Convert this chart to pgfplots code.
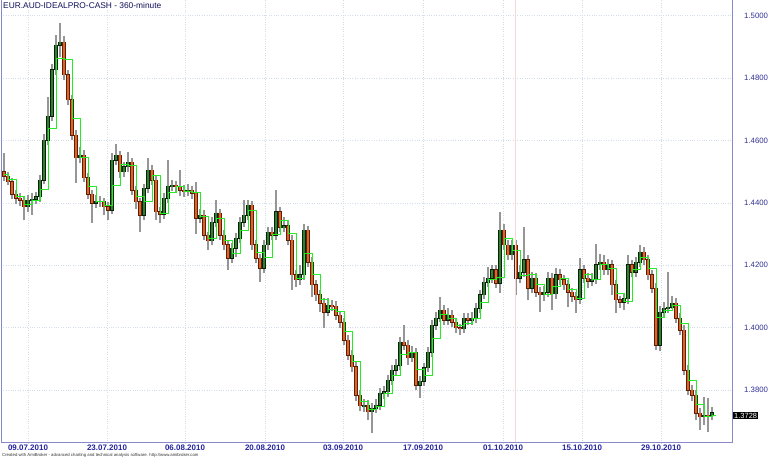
\documentclass[border=0pt]{standalone}
\usepackage{pgfplots}
\pgfplotsset{compat=1.18}
\usepackage{pgfplotstable}
\usepackage{fontspec}
\setmainfont{Liberation Sans}
\definecolor{framec}{RGB}{136,136,204}
\definecolor{titlec}{RGB}{16,16,90}
\definecolor{datec}{RGB}{36,36,160}
\definecolor{tickc}{RGB}{48,48,150}
\definecolor{gridc}{RGB}{212,222,232}
\definecolor{wickc}{RGB}{150,150,150}
\definecolor{upfill}{RGB}{46,130,46}
\definecolor{upedge}{RGB}{10,30,10}
\definecolor{dnfill}{RGB}{226,98,36}
\definecolor{dnedge}{RGB}{90,32,8}
\definecolor{sigc}{RGB}{40,235,40}
\definecolor{pinkc}{RGB}{246,214,214}

\pgfplotstableread{
x o h l c
4 1.4499 1.4560 1.4470 1.4486
8 1.4486 1.4499 1.4457 1.4467
12 1.4467 1.4480 1.4412 1.4428
16 1.4428 1.4441 1.4396 1.4415
20 1.4415 1.4431 1.4390 1.4409
24 1.4409 1.4422 1.4345 1.4387
28 1.4387 1.4425 1.4371 1.4409
32 1.4409 1.4431 1.4360 1.4412
36 1.4412 1.4435 1.4396 1.4419
40 1.4419 1.4489 1.4403 1.4473
44 1.4473 1.4620 1.4460 1.4601
48 1.4601 1.4739 1.4585 1.4678
52 1.4678 1.4845 1.4662 1.4826
56 1.4826 1.4938 1.4810 1.4906
60 1.4906 1.4976 1.4867 1.4915
64 1.4915 1.4935 1.4794 1.4810
68 1.4810 1.4826 1.4714 1.4730
72 1.4730 1.4746 1.4601 1.4617
76 1.4617 1.4633 1.4463 1.4544
80 1.4544 1.4579 1.4528 1.4553
84 1.4553 1.4569 1.4467 1.4480
88 1.4480 1.4496 1.4412 1.4428
92 1.4428 1.4441 1.4335 1.4399
96 1.4399 1.4425 1.4383 1.4406
100 1.4406 1.4422 1.4387 1.4403
104 1.4403 1.4415 1.4361 1.4387
108 1.4387 1.4403 1.4345 1.4377
112 1.4377 1.4560 1.4364 1.4537
116 1.4537 1.4588 1.4521 1.4553
120 1.4553 1.4566 1.4480 1.4499
124 1.4499 1.4531 1.4483 1.4515
128 1.4515 1.4563 1.4499 1.4531
132 1.4531 1.4544 1.4425 1.4441
136 1.4441 1.4454 1.4380 1.4403
140 1.4403 1.4415 1.4306 1.4361
144 1.4361 1.4460 1.4345 1.4447
148 1.4447 1.4544 1.4431 1.4505
152 1.4505 1.4521 1.4457 1.4473
156 1.4473 1.4489 1.4345 1.4371
160 1.4371 1.4387 1.4335 1.4364
164 1.4364 1.4431 1.4348 1.4415
168 1.4415 1.4537 1.4399 1.4454
172 1.4454 1.4473 1.4438 1.4457
176 1.4457 1.4470 1.4431 1.4451
180 1.4451 1.4505 1.4422 1.4441
184 1.4441 1.4457 1.4419 1.4435
188 1.4435 1.4460 1.4422 1.4441
192 1.4441 1.4454 1.4412 1.4431
196 1.4431 1.4467 1.4300 1.4351
200 1.4351 1.4380 1.4335 1.4361
204 1.4361 1.4377 1.4281 1.4297
208 1.4297 1.4306 1.4249 1.4278
212 1.4278 1.4354 1.4265 1.4338
216 1.4338 1.4409 1.4322 1.4367
220 1.4367 1.4380 1.4281 1.4297
224 1.4297 1.4313 1.4249 1.4265
228 1.4265 1.4281 1.4185 1.4223
232 1.4223 1.4271 1.4207 1.4255
236 1.4255 1.4303 1.4226 1.4287
240 1.4287 1.4354 1.4271 1.4338
244 1.4338 1.4409 1.4322 1.4361
248 1.4361 1.4409 1.4345 1.4393
252 1.4393 1.4406 1.4249 1.4265
256 1.4265 1.4281 1.4207 1.4223
260 1.4223 1.4236 1.4146 1.4191
264 1.4191 1.4281 1.4175 1.4265
268 1.4265 1.4322 1.4249 1.4306
272 1.4306 1.4322 1.4281 1.4297
276 1.4297 1.4441 1.4281 1.4371
280 1.4371 1.4387 1.4306 1.4322
284 1.4322 1.4355 1.4306 1.4326
288 1.4326 1.4342 1.4265 1.4281
292 1.4281 1.4297 1.4121 1.4169
296 1.4169 1.4185 1.4130 1.4153
300 1.4153 1.4201 1.4137 1.4169
304 1.4169 1.4332 1.4153 1.4313
308 1.4313 1.4326 1.4194 1.4210
312 1.4210 1.4226 1.4098 1.4137
316 1.4137 1.4153 1.4085 1.4105
320 1.4105 1.4121 1.4050 1.4079
324 1.4079 1.4095 1.4000 1.4050
328 1.4050 1.4095 1.4037 1.4072
332 1.4072 1.4088 1.4053 1.4069
336 1.4069 1.4085 1.4024 1.4040
340 1.4040 1.4053 1.3999 1.4018
344 1.4018 1.4031 1.3944 1.3960
348 1.3960 1.3976 1.3896 1.3912
352 1.3912 1.3928 1.3858 1.3874
356 1.3874 1.3890 1.3765 1.3784
360 1.3784 1.3800 1.3733 1.3749
364 1.3749 1.3771 1.3730 1.3752
368 1.3752 1.3768 1.3704 1.3730
372 1.3730 1.3758 1.3662 1.3742
376 1.3742 1.3771 1.3726 1.3752
380 1.3752 1.3806 1.3736 1.3790
384 1.3790 1.3813 1.3771 1.3794
388 1.3794 1.3848 1.3778 1.3832
392 1.3832 1.3880 1.3816 1.3864
396 1.3864 1.3899 1.3848 1.3880
400 1.3880 1.3970 1.3864 1.3954
404 1.3954 1.4008 1.3928 1.3944
408 1.3944 1.3960 1.3880 1.3903
412 1.3903 1.3941 1.3890 1.3922
416 1.3922 1.3935 1.3800 1.3816
420 1.3816 1.3845 1.3775 1.3829
424 1.3829 1.3887 1.3813 1.3871
428 1.3871 1.3938 1.3858 1.3922
432 1.3922 1.4024 1.3906 1.4008
436 1.4008 1.4050 1.3992 1.4031
440 1.4031 1.4098 1.4018 1.4056
444 1.4056 1.4072 1.4008 1.4024
448 1.4024 1.4063 1.4008 1.4040
452 1.4040 1.4056 1.4002 1.4018
456 1.4018 1.4031 1.3983 1.3999
460 1.3999 1.4012 1.3976 1.3996
464 1.3996 1.4047 1.3983 1.4031
468 1.4031 1.4047 1.4008 1.4024
472 1.4024 1.4050 1.4008 1.4031
476 1.4031 1.4079 1.4015 1.4063
480 1.4063 1.4121 1.4047 1.4105
484 1.4105 1.4162 1.4092 1.4146
488 1.4146 1.4194 1.4130 1.4159
492 1.4159 1.4201 1.4143 1.4185
496 1.4185 1.4201 1.4127 1.4143
500 1.4143 1.4371 1.4111 1.4313
504 1.4313 1.4332 1.4249 1.4265
508 1.4265 1.4281 1.4217 1.4233
512 1.4233 1.4281 1.4217 1.4265
516 1.4265 1.4281 1.4105 1.4159
520 1.4159 1.4201 1.4143 1.4178
524 1.4178 1.4322 1.4162 1.4217
528 1.4217 1.4233 1.4089 1.4127
532 1.4127 1.4178 1.4111 1.4159
536 1.4159 1.4175 1.4098 1.4114
540 1.4114 1.4130 1.4050 1.4105
544 1.4105 1.4133 1.4085 1.4114
548 1.4114 1.4178 1.4098 1.4159
552 1.4159 1.4175 1.4057 1.4108
556 1.4108 1.4191 1.4092 1.4169
560 1.4169 1.4188 1.4137 1.4153
564 1.4153 1.4169 1.4121 1.4137
568 1.4137 1.4153 1.4066 1.4114
572 1.4114 1.4127 1.4082 1.4101
576 1.4101 1.4114 1.4047 1.4089
580 1.4089 1.4223 1.4076 1.4185
584 1.4185 1.4201 1.4143 1.4159
588 1.4159 1.4175 1.4127 1.4149
592 1.4149 1.4175 1.4133 1.4156
596 1.4156 1.4268 1.4140 1.4201
600 1.4201 1.4236 1.4185 1.4210
604 1.4210 1.4233 1.4169 1.4185
608 1.4185 1.4220 1.4169 1.4201
612 1.4201 1.4217 1.4105 1.4137
616 1.4137 1.4153 1.4047 1.4089
620 1.4089 1.4101 1.4063 1.4082
624 1.4082 1.4108 1.4056 1.4092
628 1.4092 1.4233 1.4076 1.4201
632 1.4201 1.4217 1.4162 1.4178
636 1.4178 1.4226 1.4162 1.4210
640 1.4210 1.4265 1.4194 1.4242
644 1.4242 1.4258 1.4201 1.4217
648 1.4217 1.4233 1.4153 1.4169
652 1.4169 1.4185 1.4111 1.4127
656 1.4127 1.4143 1.3928 1.3944
660 1.3944 1.4069 1.3925 1.4050
664 1.4050 1.4082 1.4034 1.4063
668 1.4063 1.4178 1.4047 1.4066
672 1.4066 1.4101 1.4060 1.4079
676 1.4079 1.4095 1.4015 1.4031
680 1.4031 1.4047 1.3976 1.3992
684 1.3992 1.4008 1.3848 1.3864
688 1.3864 1.3880 1.3784 1.3800
692 1.3800 1.3816 1.3765 1.3784
696 1.3784 1.3800 1.3704 1.3726
700 1.3726 1.3742 1.3672 1.3714
704 1.3714 1.3778 1.3688 1.3720
708 1.3720 1.3774 1.3665 1.3717
712 1.3717 1.3745 1.3704 1.3728
}\ohlc

\begin{document}
\begin{tikzpicture}[x=1bp,y=1bp]
\useasboundingbox (0,0) rectangle (770,458);
\fill[white] (0,0) rectangle (770,458);
\begin{axis}[
  at={(1bp,15bp)}, anchor=south west,
  scale only axis, width=731bp, height=443bp,
  xmin=1, xmax=732, ymin=1.36304, ymax=1.50503,
  enlargelimits=false,
  axis line style={draw=none},
  major tick length=0pt,
  ytick={1.38,1.40,1.42,1.44,1.46,1.48,1.50},
  yticklabels={1.3800,1.4000,1.4200,1.4400,1.4600,1.4800,1.5000},
  yticklabel pos=right,
  yticklabel style={anchor=west, inner sep=0pt, xshift=12bp, text=tickc,
     font=\fontsize{7.8}{9}\selectfont},
  xtick={28,107,185,265,343,423,503,582,661},
  xticklabels={09.07.2010,23.07.2010,06.08.2010,20.08.2010,03.09.2010,17.09.2010,01.10.2010,15.10.2010,29.10.2010},
  xticklabel style={anchor=north, inner sep=0pt, yshift=-1.5bp, text=datec,
     font=\bfseries\fontsize{8}{9}\selectfont},
  ymajorgrids, xmajorgrids,
  grid style={dotted, gridc, line width=0.6bp},
]
\addplot[draw=none, mark=none, forget plot,
  error bars/.cd, y dir=both, y explicit, error mark=none,
  error bar style={draw=wickc, line width=1.2bp}]
  table[x=x, y expr={0.5*(\thisrow{h}+\thisrow{l})}, y error expr={0.5*(\thisrow{h}-\thisrow{l})}] {\ohlc};
% up bodies
\addplot[draw=none, mark=none, forget plot,
  error bars/.cd, y dir=both, y explicit, error mark=none,
  error bar style={draw=upedge, line width=3.2bp}]
  table[x=x, y expr={\thisrow{c}>=\thisrow{o} ? 0.5*(\thisrow{o}+\thisrow{c}) : nan},
        y error expr={max(0.5*abs(\thisrow{c}-\thisrow{o}),0.0001)+0.00016}] {\ohlc};
\addplot[draw=none, mark=none, forget plot,
  error bars/.cd, y dir=both, y explicit, error mark=none,
  error bar style={draw=upfill, line width=1.8bp}]
  table[x=x, y expr={\thisrow{c}>=\thisrow{o} ? 0.5*(\thisrow{o}+\thisrow{c}) : nan},
        y error expr={max(0.5*abs(\thisrow{c}-\thisrow{o}),0.0001)}] {\ohlc};
% down bodies
\addplot[draw=none, mark=none, forget plot,
  error bars/.cd, y dir=both, y explicit, error mark=none,
  error bar style={draw=dnedge, line width=3.2bp}]
  table[x=x, y expr={\thisrow{c}<\thisrow{o} ? 0.5*(\thisrow{o}+\thisrow{c}) : nan},
        y error expr={max(0.5*abs(\thisrow{c}-\thisrow{o}),0.0001)+0.00016}] {\ohlc};
\addplot[draw=none, mark=none, forget plot,
  error bars/.cd, y dir=both, y explicit, error mark=none,
  error bar style={draw=dnfill, line width=1.8bp}]
  table[x=x, y expr={\thisrow{c}<\thisrow{o} ? 0.5*(\thisrow{o}+\thisrow{c}) : nan},
        y error expr={max(0.5*abs(\thisrow{c}-\thisrow{o}),0.0001)}] {\ohlc};
% green stepped line
\addplot[const plot mark left, sigc, line width=0.9bp, mark=none] coordinates {
(4,1.4492) (8,1.4476) (16,1.4422) (24,1.4396) (32,1.4409) (40,1.4444) (48,1.4640) (56,1.4864) (64,1.4861) (72,1.4672) (80,1.4547) (88,1.4454) (96,1.4403) (104,1.4393) (112,1.4457) (120,1.4524) (128,1.4521) (136,1.4422) (144,1.4403) (152,1.4489) (160,1.4367) (168,1.4435) (176,1.4454) (184,1.4438) (192,1.4435) (200,1.4355) (208,1.4287) (216,1.4351) (224,1.4281) (232,1.4239) (240,1.4313) (248,1.4377) (256,1.4242) (264,1.4226) (272,1.4300) (280,1.4345) (288,1.4303) (296,1.4159) (304,1.4239) (312,1.4172) (320,1.4092) (328,1.4060) (336,1.4053) (344,1.3989) (352,1.3893) (360,1.3765) (368,1.3739) (376,1.3746) (384,1.3790) (392,1.3848) (400,1.3915) (408,1.3922) (416,1.3867) (424,1.3848) (432,1.3964) (440,1.4044) (448,1.4031) (456,1.4008) (464,1.4012) (472,1.4028) (480,1.4082) (488,1.4153) (496,1.4162) (504,1.4287) (512,1.4249) (520,1.4169) (528,1.4172) (536,1.4137) (544,1.4108) (552,1.4133) (560,1.4159) (568,1.4124) (576,1.4095) (584,1.4172) (592,1.4153) (600,1.4204) (608,1.4191) (616,1.4111) (624,1.4085) (632,1.4188) (640,1.4226) (648,1.4191) (656,1.4034) (664,1.4056) (672,1.4072) (680,1.4012) (688,1.3832) (696,1.3755) (704,1.3717) (712,1.3720) (716,1.3720)
};
\end{axis}
% faint separator and frame
\draw[pinkc, line width=0.8bp] (515,15) -- (515,458);
\draw[framec, line width=1bp] (1.5,458) -- (1.5,15.5) -- (732,15.5) -- (732,458);
% title
\node[anchor=base west, inner sep=0pt, text=titlec, font=\fontsize{8.4}{9}\selectfont] at (3,449) {EUR.AUD-IDEALPRO-CASH - 360-minute};
% last value box
\node[anchor=west, fill=black, text=white, inner sep=1bp, font=\fontsize{7.5}{8}\selectfont] at (733,42.5) {1.3728};
% footer
\node[anchor=base west, inner sep=0pt, text=black!80, font=\fontsize{4.3}{5}\selectfont] at (2,1.8) {Created with AmiBroker - advanced charting and technical analysis software. http://www.amibroker.com};
\end{tikzpicture}
\end{document}
